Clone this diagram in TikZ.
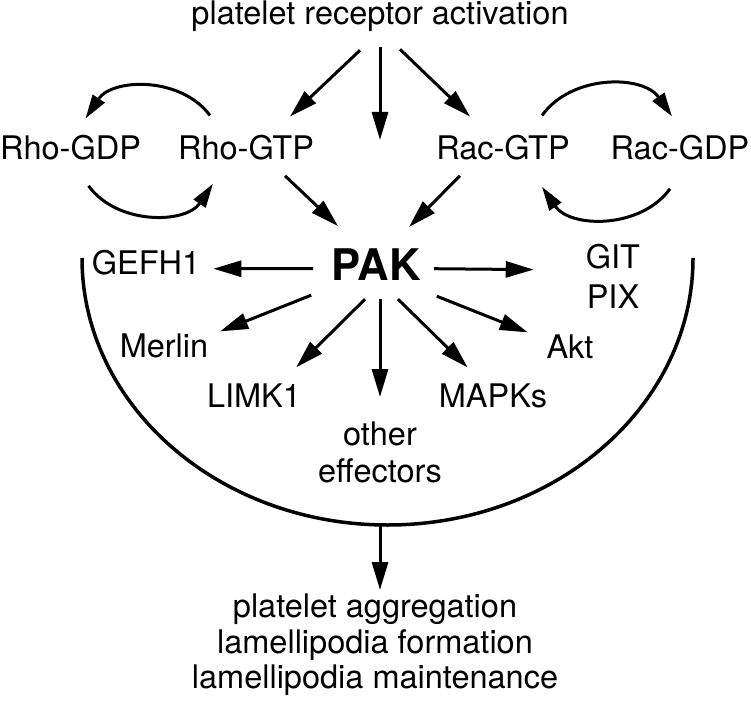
\documentclass[tikz,border=0pt]{standalone}
\usepackage{fontspec}
\setmainfont{TeX Gyre Heros}
\usetikzlibrary{arrows.meta}

\tikzset{
  lbl/.style={inner sep=0pt, font=\fontsize{32.5}{37}\selectfont},
  arr/.style={line width=3pt, -{Triangle[length=28pt,width=16pt]}},
  cyc/.style={line width=3pt, -{Triangle[length=24pt,width=14pt]}},
}

\begin{document}
\begin{tikzpicture}[x=1pt,y=1pt]
  \useasboundingbox (0,0) rectangle (751,-708);

  % --- TOP ROW ---
  \node[lbl, anchor=base] (act) at (380,-25) {platelet receptor activation};
  \node[lbl, anchor=base] (rhogdp) at (70.5,-160) {Rho-GDP};
  \node[lbl, anchor=base] (rhogtp) at (246,-160) {Rho-GTP};
  \node[lbl, anchor=base] (racgtp) at (503,-160) {Rac-GTP};
  \node[lbl, anchor=base] (racgdp) at (680,-160) {Rac-GDP};
  \coordinate (mid) at (380,-140);

  % --- PAK AND EFFECTORS ---
  \node[inner sep=0pt, anchor=base, font=\bfseries\fontsize{43.6}{44}\selectfont] (pak) at (376,-280) {PAK};
  \node[lbl, anchor=base] (gefh) at (146,-275) {GEFH1};
  \node[lbl, anchor=north, align=center, font=\fontsize{32.5}{40}\selectfont] (gitpix) at (613,-243.7) {GIT\\PIX};
  \node[lbl, anchor=base] (merlin) at (164,-357) {Merlin};
  \node[lbl, anchor=base] (akt) at (570,-358) {Akt};
  \node[lbl, anchor=base] (limk) at (254,-407) {LIMK1};
  \node[lbl, anchor=base] (mapks) at (493,-407) {MAPKs};
  \node[lbl, anchor=north, align=center] (other) at (380,-421.7) {other\\effectors};

  % --- OUTCOME ---
  \node[lbl, anchor=north, align=center, font=\fontsize{32.5}{35.5}\selectfont] (result) at (375,-593.7)
    {platelet aggregation\\lamellipodia formation\\lamellipodia maintenance};

  % activation arrows
  \draw[arr] ([xshift=-20pt,yshift=-18pt]act.south) -- ([xshift=44pt,yshift=19pt]rhogtp.north);
  \draw[arr] ([yshift=-15pt]act.south) -- (mid);
  \draw[arr] ([xshift=20pt,yshift=-17pt]act.south) -- ([xshift=-33pt,yshift=19pt]racgtp.north);

  % GDP/GTP cycles
  \draw[cyc] ([xshift=-36pt,yshift=20pt]rhogtp.north) to[bend right=55] ([xshift=15pt,yshift=17pt]rhogdp.north);
  \draw[cyc] ([xshift=18pt,yshift=-25pt]rhogdp.south) to[bend right=55] ([xshift=-33pt,yshift=-23pt]rhogtp.south);
  \draw[cyc] ([xshift=39pt,yshift=20pt]racgtp.north) to[bend left=55] ([xshift=-8pt,yshift=19pt]racgdp.north);
  \draw[cyc] ([xshift=-10pt,yshift=-28pt]racgdp.south) to[bend left=55] ([xshift=39pt,yshift=-26pt]racgtp.south);

  % into PAK
  \draw[arr] ([xshift=39pt,yshift=-15pt]rhogtp.south) -- ([xshift=-38pt,yshift=22pt]pak.north);
  \draw[arr] ([xshift=-43pt,yshift=-15pt]racgtp.south) -- ([xshift=33pt,yshift=21pt]pak.north);

  % out of PAK
  \draw[arr] ([xshift=-18pt,yshift=-4.6pt]pak.west) -- ([xshift=13pt,yshift=-5.6pt]gefh.east);
  \draw[arr] ([xshift=13pt,yshift=-4.6pt]pak.east) -- ([xshift=-52pt,yshift=6.4pt]gitpix.west);
  \draw[arr] ([xshift=-20pt,yshift=-15pt]pak.south west) -- ([xshift=11.7pt,yshift=1.7pt]merlin.north east);
  \draw[arr] ([xshift=-11pt,yshift=-19pt]pak.south) -- ([xshift=-5pt,yshift=15.7pt]limk.north east);
  \draw[arr] ([xshift=4pt,yshift=-19pt]pak.south) -- ([yshift=24.7pt]other.north);
  \draw[arr] ([xshift=22pt,yshift=-19pt]pak.south) -- ([xshift=29pt,yshift=15.7pt]mapks.north west);
  \draw[arr] ([xshift=16pt,yshift=-16pt]pak.south east) -- ([xshift=-18.5pt,yshift=1.7pt]akt.north west);

  % enclosing arc and outcome
  \coordinate (arcl) at (82,-258);
  \coordinate (arcb) at (380,-524);
  \draw[line width=3.5pt] (arcl) arc[start angle=180, end angle=360, x radius=305.5, y radius=267];
  \draw[arr] (arcb) -- ([xshift=5pt,yshift=3.7pt]result.north);
\end{tikzpicture}
\end{document}
